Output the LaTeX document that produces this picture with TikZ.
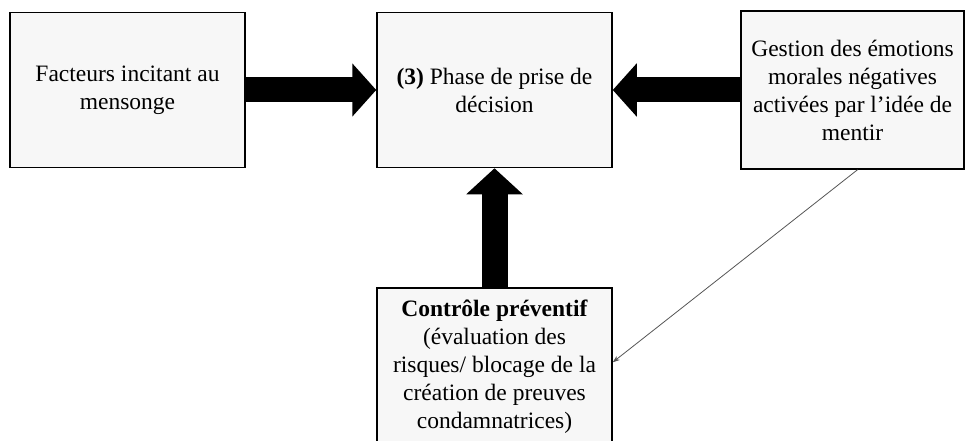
\documentclass[tikz,border=0pt]{standalone}
\usepackage{fontspec}
\setmainfont{Liberation Serif}
\usetikzlibrary{arrows.meta,calc}
\definecolor{boxgray}{HTML}{F7F7F7}
\definecolor{thinline}{HTML}{555555}
\begin{document}
\begin{tikzpicture}[x=1pt,y=-1pt,
  box/.style={draw=black, line width=1.5pt, fill=boxgray, inner sep=0pt, align=center,
    font=\fontsize{23.5}{28}\selectfont, minimum width=235pt, minimum height=155pt},
  fatarrow/.style={line width=25pt, -{Triangle[width=52pt,length=24pt]}},
  thin/.style={draw=thinline, line width=0.8pt, -{Stealth[length=7pt,width=5pt]}}]
\useasboundingbox (0,0) rectangle (965,441);
\node[box] (f) at (127.5,90) {Facteurs incitant au\\mensonge};
\node[box] (p) at (494.5,90) {\textbf{(3)} Phase de prise de\\décision};
\node[box, minimum width=223pt, minimum height=158pt] (g) at (852.5,90) {Gestion des émotions\\morales négatives\\activées par l’idée de\\mentir};
\node[box, minimum height=158pt] (c) at (494.5,367) {\textbf{Contrôle préventif}\\(évaluation des\\risques/ blocage de la\\création de preuves\\condamnatrices)};
\draw[fatarrow] (f.east) -- (p.west);
\draw[fatarrow] (g.west |- p.west) -- (p.east);
\draw[fatarrow, line width=26pt, -{Triangle[width=55pt,length=26pt]}] (c.north) -- (p.south);
\coordinate (s) at ($(g.south)+(5,0)$);
\coordinate (e) at ($(c.north east)+(0,75)$);
\draw[thin] (s) -- (e);
\end{tikzpicture}
\end{document}
